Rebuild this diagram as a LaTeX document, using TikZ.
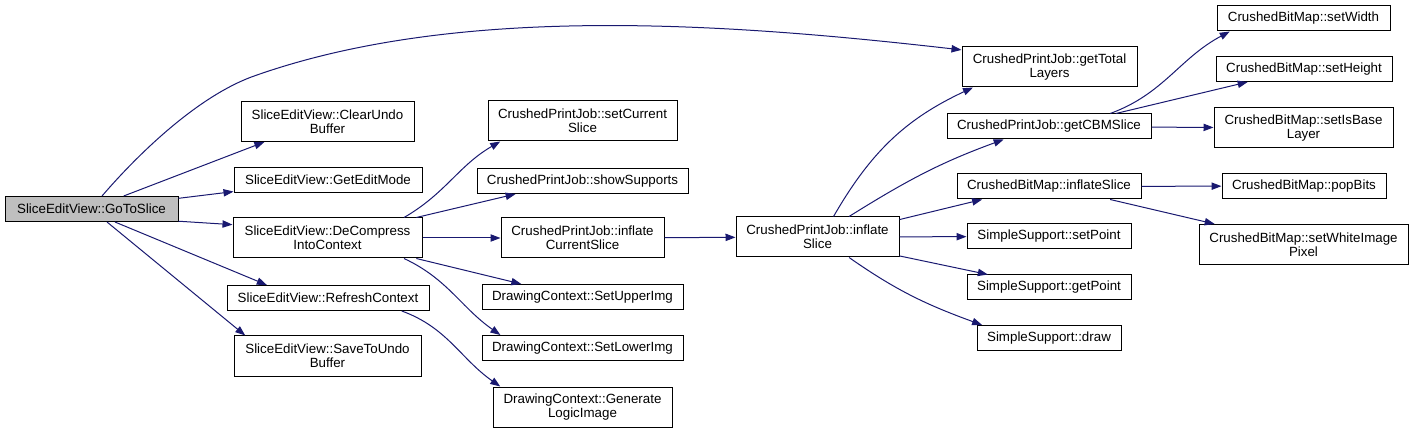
\documentclass[tikz,border=0pt]{standalone}
\usepackage{fontspec}
\setmainfont{Liberation Sans}
\usetikzlibrary{arrows.meta}
\definecolor{edgeblue}{HTML}{191970}
\definecolor{rootgray}{HTML}{BFBFBF}
\tikzset{
  fn/.style={draw=black, line width=0.75pt, rectangle, inner sep=0pt, align=center,
    font=\fontsize{10}{10.5}\selectfont, minimum height=25*0.75pt},
  fn2/.style={fn, minimum height=40*0.75pt},
  boxw/.style={minimum width=#1*0.75pt},
  call/.style={draw=edgeblue, line width=0.75pt, -{Triangle[length=7.5pt,width=5.5pt]}},
}
\begin{document}
\begin{tikzpicture}[x=0.75pt,y=0.75pt]
\useasboundingbox (0,0) rectangle (1413,432);
% callers side
\node[fn, fill=rootgray, boxw=173] (gts) at (91.5,223) {SliceEditView::GoToSlice};
\node[fn2, boxw=173] (cub) at (327.5,310.5) {SliceEditView::ClearUndo\\Buffer};
\node[fn, boxw=188] (gem) at (328,252) {SliceEditView::GetEditMode};
\node[fn2, boxw=189] (dic) at (327.5,194) {SliceEditView::DeCompress\\IntoContext};
\node[fn, boxw=202] (rfc) at (328,134) {SliceEditView::RefreshContext};
\node[fn2, boxw=187] (stu) at (327.5,76) {SliceEditView::SaveToUndo\\Buffer};
% second column
\node[fn2, boxw=189] (scs) at (582.5,311) {CrushedPrintJob::setCurrent\\Slice};
\node[fn, boxw=211] (ssp) at (582.5,251) {CrushedPrintJob::showSupports};
\node[fn2, boxw=163] (ics) at (582.5,194) {CrushedPrintJob::inflate\\CurrentSlice};
\node[fn, boxw=201] (sui) at (582.5,135) {DrawingContext::SetUpperImg};
\node[fn, boxw=201] (sli) at (582.5,84) {DrawingContext::SetLowerImg};
\node[fn2, boxw=179] (gli) at (582.5,25) {DrawingContext::Generate\\LogicImage};
\node[fn2, boxw=163] (ifs) at (817.5,195) {CrushedPrintJob::inflate\\Slice};
% third column
\node[fn2, boxw=175] (gtl) at (1049.5,365) {CrushedPrintJob::getTotal\\Layers};
\node[fn, boxw=204] (gcb) at (1049,305.5) {CrushedPrintJob::getCBMSlice};
\node[fn, boxw=184] (cis) at (1049,245.5) {CrushedBitMap::inflateSlice};
\node[fn, boxw=164] (spt) at (1049,195.5) {SimpleSupport::setPoint};
\node[fn, boxw=164] (gpt) at (1049,144.5) {SimpleSupport::getPoint};
\node[fn, boxw=144] (drw) at (1049,94) {SimpleSupport::draw};
% last column
\node[fn, boxw=173] (swd) at (1303.5,413.5) {CrushedBitMap::setWidth};
\node[fn, boxw=176] (sht) at (1304,363) {CrushedBitMap::setHeight};
\node[fn2, boxw=179] (sib) at (1303.5,304) {CrushedBitMap::setIsBase\\Layer};
\node[fn, boxw=164] (pbt) at (1304,246) {CrushedBitMap::popBits};
\node[fn2, boxw=209] (swp) at (1303.5,187.5) {CrushedBitMap::setWhiteImage\\Pixel};
% calls
\draw[call] (gts.51) .. controls (139,279) and (200,338) .. (257,357)
  .. controls (460,428) and (726,409) .. (gtl.169);
\draw[call] (gts.22) -- (cub.198);
\draw[call] (gts.7) -- (gem.187);
\draw[call] (gts.352) -- (dic.172);
\draw[call] (gts.331) -- (rfc.168);
\draw[call] (gts.320) -- (stu.166);
\draw[call] (dic.15) to[out=30,in=210] (scs.194);
\draw[call] (dic.13) -- (ssp.191);
\draw[call] (dic) -- (ics);
\draw[call] (dic.347) -- (sui.168);
\draw[call] (dic.345) to[out=-25,in=145] (sli.171);
\draw[call] (rfc.350) to[out=-20,in=145] (gli.166);
\draw[call] (ics) -- (ifs);
\draw[call] (ifs.52) to[out=60,in=205] (gtl.195);
\draw[call] (ifs.33) to[out=32,in=200] (gcb.196);
\draw[call] (ifs.12) -- (cis.191);
\draw[call] (ifs) -- (spt);
\draw[call] (ifs.347) -- (gpt.168);
\draw[call] (ifs.327) to[out=-35,in=160] (drw.169);
\draw[call] (gcb.12) to[out=20,in=208] (swd.190);
\draw[call] (gcb.11) -- (sht.193);
\draw[call] (gcb) -- (sib);
\draw[call] (cis) -- (pbt);
\draw[call] (cis.348) -- (swp.167);
\end{tikzpicture}
\end{document}
